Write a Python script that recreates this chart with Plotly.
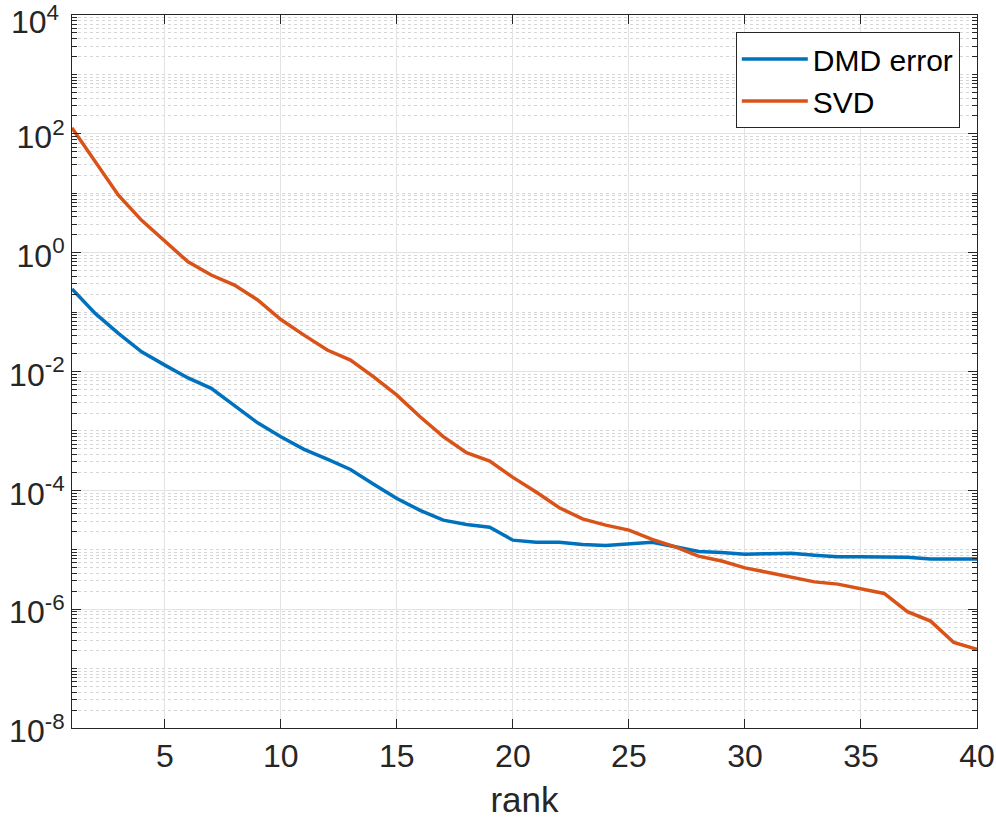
import plotly.graph_objects as go

rank = list(range(1, 41))
dmd_error = [0.244, 0.095, 0.0438, 0.0215, 0.0128, 0.0078, 0.0052, 0.0027, 0.00137, 0.0008,
             0.00049, 0.000335, 0.000224, 1.27e-4, 7.3e-5, 4.6e-5, 3.15e-5, 2.67e-5, 2.4e-5, 1.45e-5,
             1.34e-5, 1.34e-5, 1.23e-5, 1.18e-5, 1.26e-5, 1.34e-5, 1.12e-5, 9.35e-6, 9.0e-6, 8.43e-6,
             8.6e-6, 8.7e-6, 8.1e-6, 7.6e-6, 7.6e-6, 7.6e-6, 7.5e-6, 7.0e-6, 7.0e-6, 7.0e-6]
svd = [126, 35, 9.3, 3.5, 1.6, 0.70, 0.42, 0.285, 0.16, 0.075,
       0.041, 0.023, 0.0156, 0.0081, 0.0040, 0.00173, 0.0008, 0.00043, 0.00031, 0.000165,
       9.4e-5, 5.1e-5, 3.3e-5, 2.6e-5, 2.14e-5, 1.49e-5, 1.12e-5, 7.8e-6, 6.45e-6, 4.95e-6,
       4.15e-6, 3.5e-6, 2.88e-6, 2.64e-6, 2.2e-6, 1.84e-6, 9.1e-7, 6.3e-7, 2.75e-7, 2.1e-7]

x_ticks = [5, 10, 15, 20, 25, 30, 35, 40]
y_exponents = [-8, -6, -4, -2, 0, 2, 4]

series_names = ["DMD error", "SVD"]
colors = ["#0072BD", "#D95319"]

FONT = "Liberation Sans, Arial, Helvetica, sans-serif"
AX = "#262626"
TICK_SIZE = 32

fig = go.Figure()
for name, vals, col in zip(series_names, [dmd_error, svd], colors):
    fig.add_trace(go.Scatter(x=rank, y=vals, mode="lines", name=name,
                             line=dict(color=col, width=3.5)))

y_major = [10.0 ** e for e in y_exponents]
top_exp = max(y_exponents)
# the top label is drawn as an annotation so it can sit fully inside the page
y_text = ["10<sup>%d</sup>" % e if e != top_exp else "" for e in y_exponents]
y_minor = []
for n in range(-8, 4):
    for k in range(1, 10):
        v = k * 10.0 ** n
        if k == 1 and n in y_exponents:
            continue
        y_minor.append(v)

fig.add_annotation(x=0, xref="paper", y=top_exp, yref="y",
                   text="10<sup>%d</sup>" % top_exp, showarrow=False,
                   xanchor="right", yanchor="top", xshift=-11, yshift=17,
                   font=dict(family=FONT, size=TICK_SIZE, color=AX))

fig.update_layout(
    width=996, height=819,
    margin=dict(l=72, r=19, t=15, b=91),
    paper_bgcolor="white", plot_bgcolor="white",
    font=dict(family=FONT, size=TICK_SIZE, color=AX),
    showlegend=True,
    legend=dict(x=0.981, y=0.976, xanchor="right", yanchor="top",
                bgcolor="white", bordercolor=AX, borderwidth=1,
                font=dict(size=30, color="black"), itemwidth=66,
                tracegroupgap=0),
    xaxis=dict(
        range=[1, 40], tickvals=x_ticks, ticks="inside", ticklen=9, tickwidth=1,
        tickcolor=AX, showline=True, linecolor=AX, linewidth=1, mirror="ticks",
        showgrid=True, gridcolor="#e3e3e3", gridwidth=1, zeroline=False,
        tickfont=dict(size=TICK_SIZE, color=AX), automargin=False,
        ticklabeloverflow="allow",
        title=dict(text="rank", font=dict(size=35, color=AX), standoff=14),
    ),
    yaxis=dict(
        type="log", range=[-8, 4], tickvals=y_major, ticktext=y_text,
        ticks="inside", ticklen=9, tickwidth=1, tickcolor=AX,
        showline=True, linecolor=AX, linewidth=1, mirror="ticks",
        showgrid=True, gridcolor="#e3e3e3", gridwidth=1, zeroline=False,
        tickfont=dict(size=TICK_SIZE, color=AX), automargin=False,
        ticklabeloverflow="allow", ticklabelshift=3,
        minor=dict(tickvals=y_minor, ticks="inside", ticklen=5, tickcolor=AX,
                   showgrid=True, gridcolor="#d6d6d6", griddash="dot", gridwidth=1),
    ),
)

fig.write_html("out.html")
